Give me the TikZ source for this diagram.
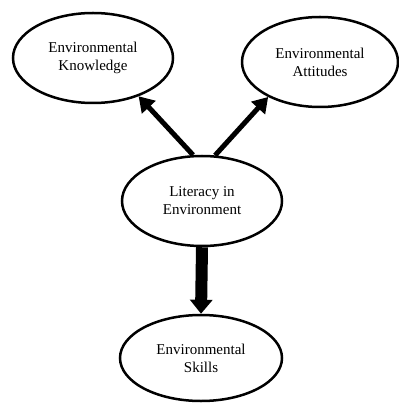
\documentclass[tikz,border=0pt]{standalone}
\usepackage{fontspec}
\setmainfont{Liberation Serif}
\usetikzlibrary{shapes.geometric,arrows.meta}
\begin{document}
\begin{tikzpicture}[x=1pt,y=-1pt,
  concept/.style={ellipse,draw,line width=2.5pt,minimum width=160pt,minimum height=90pt,
    inner sep=0pt,align=center,font=\fontsize{15pt}{18pt}\selectfont},
  thinlink/.style={line width=5pt,-{Triangle[length=15pt,width=18pt]}},
  thicklink/.style={line width=12pt,-{Triangle[length=14pt,width=22pt]}}]
\useasboundingbox (0,0) rectangle (398,403);
\node[concept] (know) at (93,58) {Environmental\\Knowledge};
\node[concept,minimum width=156pt] (att) at (320,62) {Environmental\\Attitudes};
\node[concept] (lit) at (202,201) {Literacy in\\Environment};
\node[concept,minimum width=162pt,minimum height=86pt] (skill) at (201,358) {Environmental\\Skills};
\draw[thinlink] (lit.101) -- (know.-40);
\draw[thinlink] (lit.74) -- (att.214);
\draw[thicklink] (lit.south) -- (skill.north);
\end{tikzpicture}
\end{document}
